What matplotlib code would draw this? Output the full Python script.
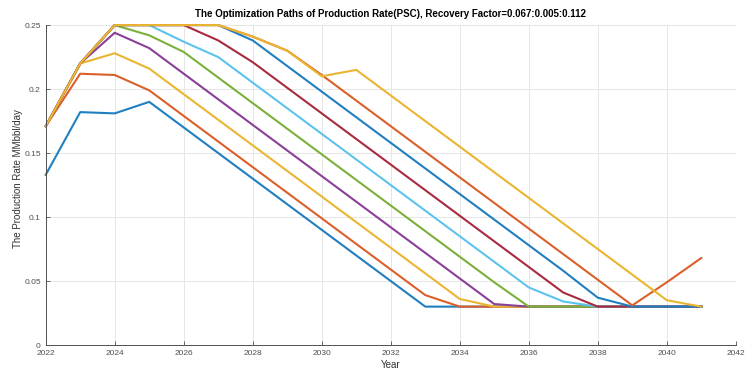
import numpy as np
import matplotlib.pyplot as plt

plt.rcParams['font.family'] = ['Liberation Sans', 'DejaVu Sans']

years = np.arange(2022, 2042)

# production rate paths, one per recovery factor 0.067:0.005:0.112
rate_rf1 = [0.133, 0.182, 0.181, 0.190, 0.170, 0.150, 0.130, 0.110, 0.090, 0.070,
            0.050, 0.030, 0.030, 0.030, 0.030, 0.030, 0.030, 0.030, 0.030, 0.030]
rate_rf2 = [0.171, 0.212, 0.211, 0.199, 0.179, 0.159, 0.139, 0.119, 0.099, 0.079,
            0.059, 0.039, 0.030, 0.030, 0.030, 0.030, 0.030, 0.030, 0.030, 0.030]
rate_rf3 = [0.171, 0.220, 0.228, 0.216, 0.196, 0.176, 0.156, 0.136, 0.116, 0.096,
            0.076, 0.056, 0.036, 0.030, 0.030, 0.030, 0.030, 0.030, 0.030, 0.030]
rate_rf4 = [0.171, 0.220, 0.244, 0.232, 0.212, 0.192, 0.172, 0.152, 0.132, 0.112,
            0.092, 0.072, 0.052, 0.032, 0.030, 0.030, 0.030, 0.030, 0.030, 0.030]
rate_rf5 = [0.171, 0.220, 0.250, 0.242, 0.229, 0.209, 0.189, 0.169, 0.149, 0.129,
            0.109, 0.089, 0.069, 0.049, 0.030, 0.030, 0.030, 0.030, 0.030, 0.030]
rate_rf6 = [0.171, 0.220, 0.250, 0.250, 0.237, 0.225, 0.205, 0.185, 0.165, 0.145,
            0.125, 0.105, 0.085, 0.065, 0.045, 0.034, 0.030, 0.030, 0.030, 0.030]
rate_rf7 = [0.171, 0.220, 0.250, 0.250, 0.250, 0.238, 0.221, 0.201, 0.181, 0.161,
            0.141, 0.121, 0.101, 0.081, 0.061, 0.041, 0.030, 0.030, 0.030, 0.030]
rate_rf8 = [0.171, 0.220, 0.250, 0.250, 0.250, 0.250, 0.238, 0.218, 0.198, 0.178,
            0.158, 0.138, 0.118, 0.098, 0.078, 0.058, 0.037, 0.030, 0.030, 0.030]
rate_rf9 = [0.171, 0.220, 0.250, 0.250, 0.250, 0.250, 0.241, 0.230, 0.211, 0.191,
            0.171, 0.151, 0.131, 0.111, 0.091, 0.071, 0.051, 0.031, 0.049, 0.068]
rate_rf10 = [0.171, 0.220, 0.250, 0.250, 0.250, 0.250, 0.241, 0.230, 0.210, 0.215,
             0.195, 0.175, 0.155, 0.135, 0.115, 0.095, 0.075, 0.055, 0.035, 0.030]

paths = [rate_rf1, rate_rf2, rate_rf3, rate_rf4, rate_rf5,
         rate_rf6, rate_rf7, rate_rf8, rate_rf9, rate_rf10]

# MATLAB default line color order (a touch lighter)
colors = ['#1f7fc0', '#dc5f2a', '#eab530', '#8a3f98', '#7bb03a',
          '#5cc3ee', '#a82a40']

xticks = np.arange(2022, 2043, 2)
yticks = [0, 0.05, 0.1, 0.15, 0.2, 0.25]
ytick_labels = ['0', '0.05', '0.1', '0.15', '0.2', '0.25']

fig = plt.figure(figsize=(7.47, 3.69), dpi=100)
ax = fig.add_axes([0.0612, 0.065, 0.9238, 0.867])

for i, p in enumerate(paths):
    ax.plot(years, p, color=colors[i % len(colors)], linewidth=1.5, clip_on=False)

ax.set_xlim(2022, 2042)
ax.set_ylim(0, 0.25)
ax.set_xticks(xticks)
ax.set_yticks(yticks)
ax.set_yticklabels(ytick_labels)
ax.grid(True, color='#e6e6e6', linewidth=0.7)
ax.set_axisbelow(True)
ax.tick_params(direction='in', labelsize=6, colors='#505050', length=3, width=0.6)
for side in ['top', 'right']:
    ax.spines[side].set_visible(False)
for side in ['left', 'bottom']:
    ax.spines[side].set_color('#505050')
    ax.spines[side].set_linewidth(0.7)

ax.set_title('The Optimization Paths of Production Rate(PSC), Recovery Factor=0.067:0.005:0.112',
             fontsize=7, fontweight='bold', pad=6)
ax.set_xlabel('Year', fontsize=7, color='#303030', labelpad=2)
ax.set_ylabel('The Production Rate MMbbl/day', fontsize=7, color='#303030', labelpad=4)
ax.yaxis.set_label_coords(-0.033, 0.52)

fig.savefig('out.png', dpi=100)
